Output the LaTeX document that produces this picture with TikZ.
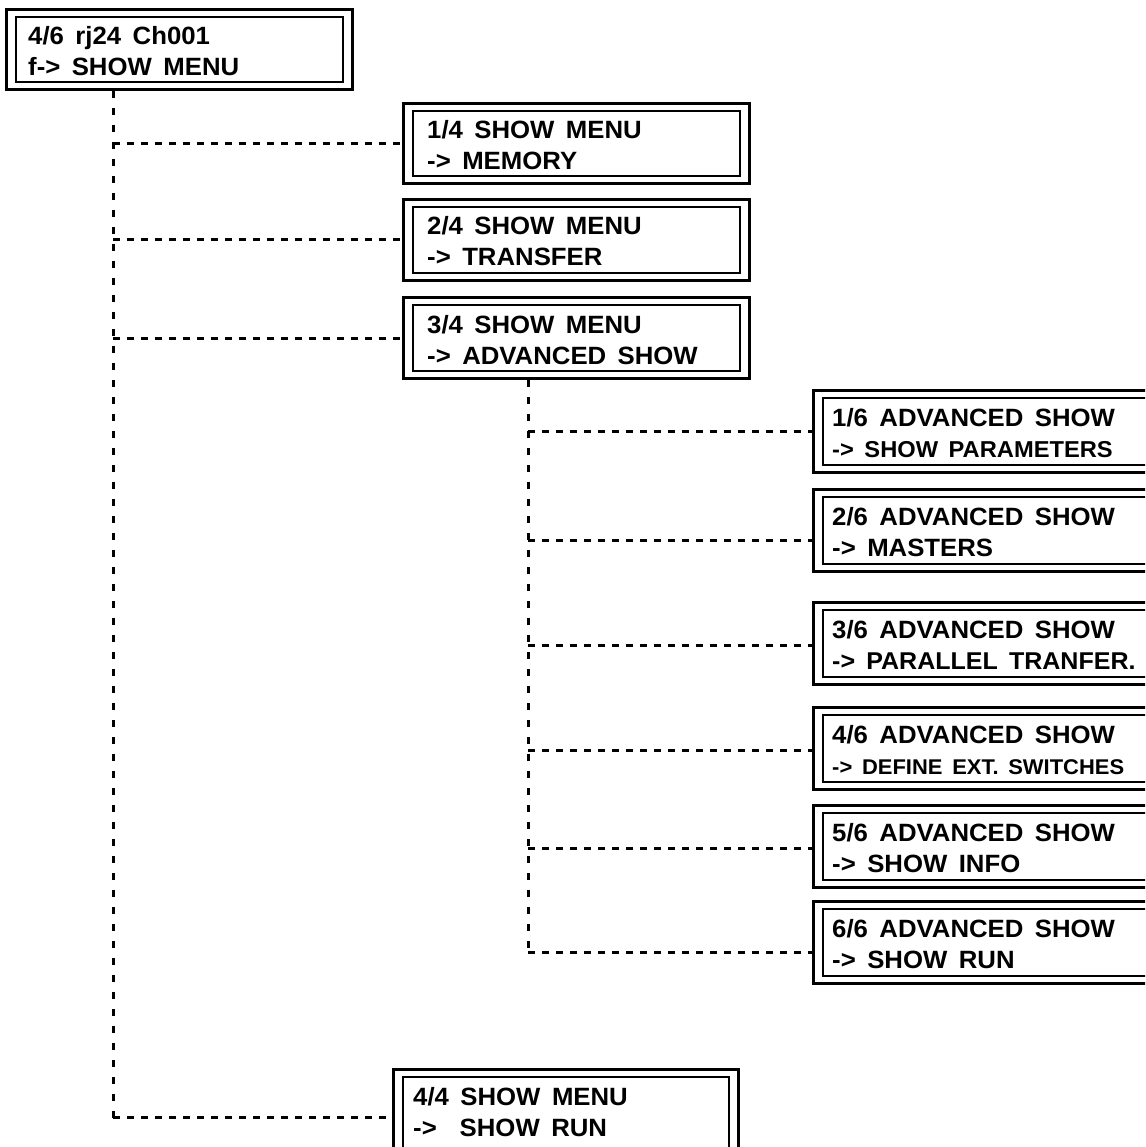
\documentclass[tikz,border=0pt]{standalone}
\usepackage{fontspec}
\setmainfont{Liberation Sans}[FakeStretch=1.03, WordSpace=1.6]
\tikzset{
  x=1pt, y=-1pt,
  outerbox/.style={draw, line width=3pt, inner sep=0pt, anchor=north west},
  innerbox/.style={draw, line width=1.3pt},
  conn/.style={line width=3pt, dash pattern=on 7pt off 7pt},
  vconn/.style={line width=3pt, dash pattern=on 7pt off 10pt},
  txt/.style={anchor=base west, inner sep=0pt, font=\fontsize{25}{25}\selectfont\bfseries},
}
% #1 name, #2 x, #3 y, #4 width, #5 height, #6 text x, #7 line 1, #8 line 2
\newcommand\menubox[8]{%
  \node[outerbox, minimum width=#4pt, minimum height=#5pt] (#1) at (#2,#3) {};
  \draw[innerbox] ([shift={(11pt,-9pt)}]#1.north west) rectangle ([shift={(-11pt,9pt)}]#1.south east);
  \node[txt] (#1-a) at (#6,#3+37) {#7};
  \node[txt] (#1-b) at (#6,#3+68) {#8};
}
\begin{document}
\begin{tikzpicture}
\clip (0,0) rectangle (1145,1147);
\fill[white] (0,0) rectangle (1145,1147);

\menubox{top}{5}{8}{346}{80}{28}{4/6 rj24 Ch001}{f-> SHOW MENU}
\menubox{m1}{402}{102}{346}{80}{427}{1/4 SHOW MENU}{-> MEMORY}
\menubox{m2}{402}{198}{346}{81}{427}{2/4 SHOW MENU}{-> TRANSFER}
\menubox{m3}{402}{296}{346}{81}{427}{3/4 SHOW MENU}{-> ADVANCED SHOW}
\menubox{m4}{392}{1068}{345}{92}{413}{4/4 SHOW MENU}{->\ \ SHOW RUN}

\menubox{a1}{812}{389}{343}{82}{832}{1/6 ADVANCED SHOW}{{\fontsize{23}{23}\selectfont -> SHOW PARAMETERS}}
\menubox{a2}{812}{488}{343}{82}{832}{2/6 ADVANCED SHOW}{-> MASTERS}
\menubox{a3}{812}{601}{343}{82}{832}{3/6 ADVANCED SHOW}{{\fontsize{24.3}{24.3}\selectfont -> PARALLEL TRANFER.}}
\menubox{a4}{812}{706}{343}{82}{832}{4/6 ADVANCED SHOW}{{\fontsize{21.3}{21.3}\selectfont -> DEFINE EXT. SWITCHES}}
\menubox{a5}{812}{804}{343}{82}{832}{5/6 ADVANCED SHOW}{-> SHOW INFO}
\menubox{a6}{812}{900}{343}{82}{832}{6/6 ADVANCED SHOW}{-> SHOW RUN}

% main trunk
\coordinate (t0) at ([xshift=108pt]top.south west);
\coordinate (t1) at ([yshift=-2pt]t0 |- m4.west);
\draw[vconn] (t0) -- (t1);
\draw[conn] (t0 |- m1.west) -- (m1.west);
\draw[conn] (t0 |- m2.west) -- (m2.west);
\draw[conn] (t0 |- m3.west) -- (m3.west);
\draw[conn] (t1) -- (t1 -| m4.west);

% advanced trunk
\coordinate (s0) at ([xshift=126pt]m3.south west);
\coordinate (s1) at ([yshift=-10pt]s0 |- a6.west);
\draw[vconn] (s0) -- (s1);
\foreach \b/\d in {a1/0,a3/-2,a4/-2,a5/-2}{
  \draw[conn] ([yshift=\d pt]s0 |- \b.west) -- ([yshift=\d pt]\b.west);
}
\draw[conn] ([yshift=-10pt]s0 |- a2.west) -- ([yshift=-10pt]a2.west);
\draw[conn] (s1) -- (s1 -| a6.west);
\end{tikzpicture}
\end{document}
